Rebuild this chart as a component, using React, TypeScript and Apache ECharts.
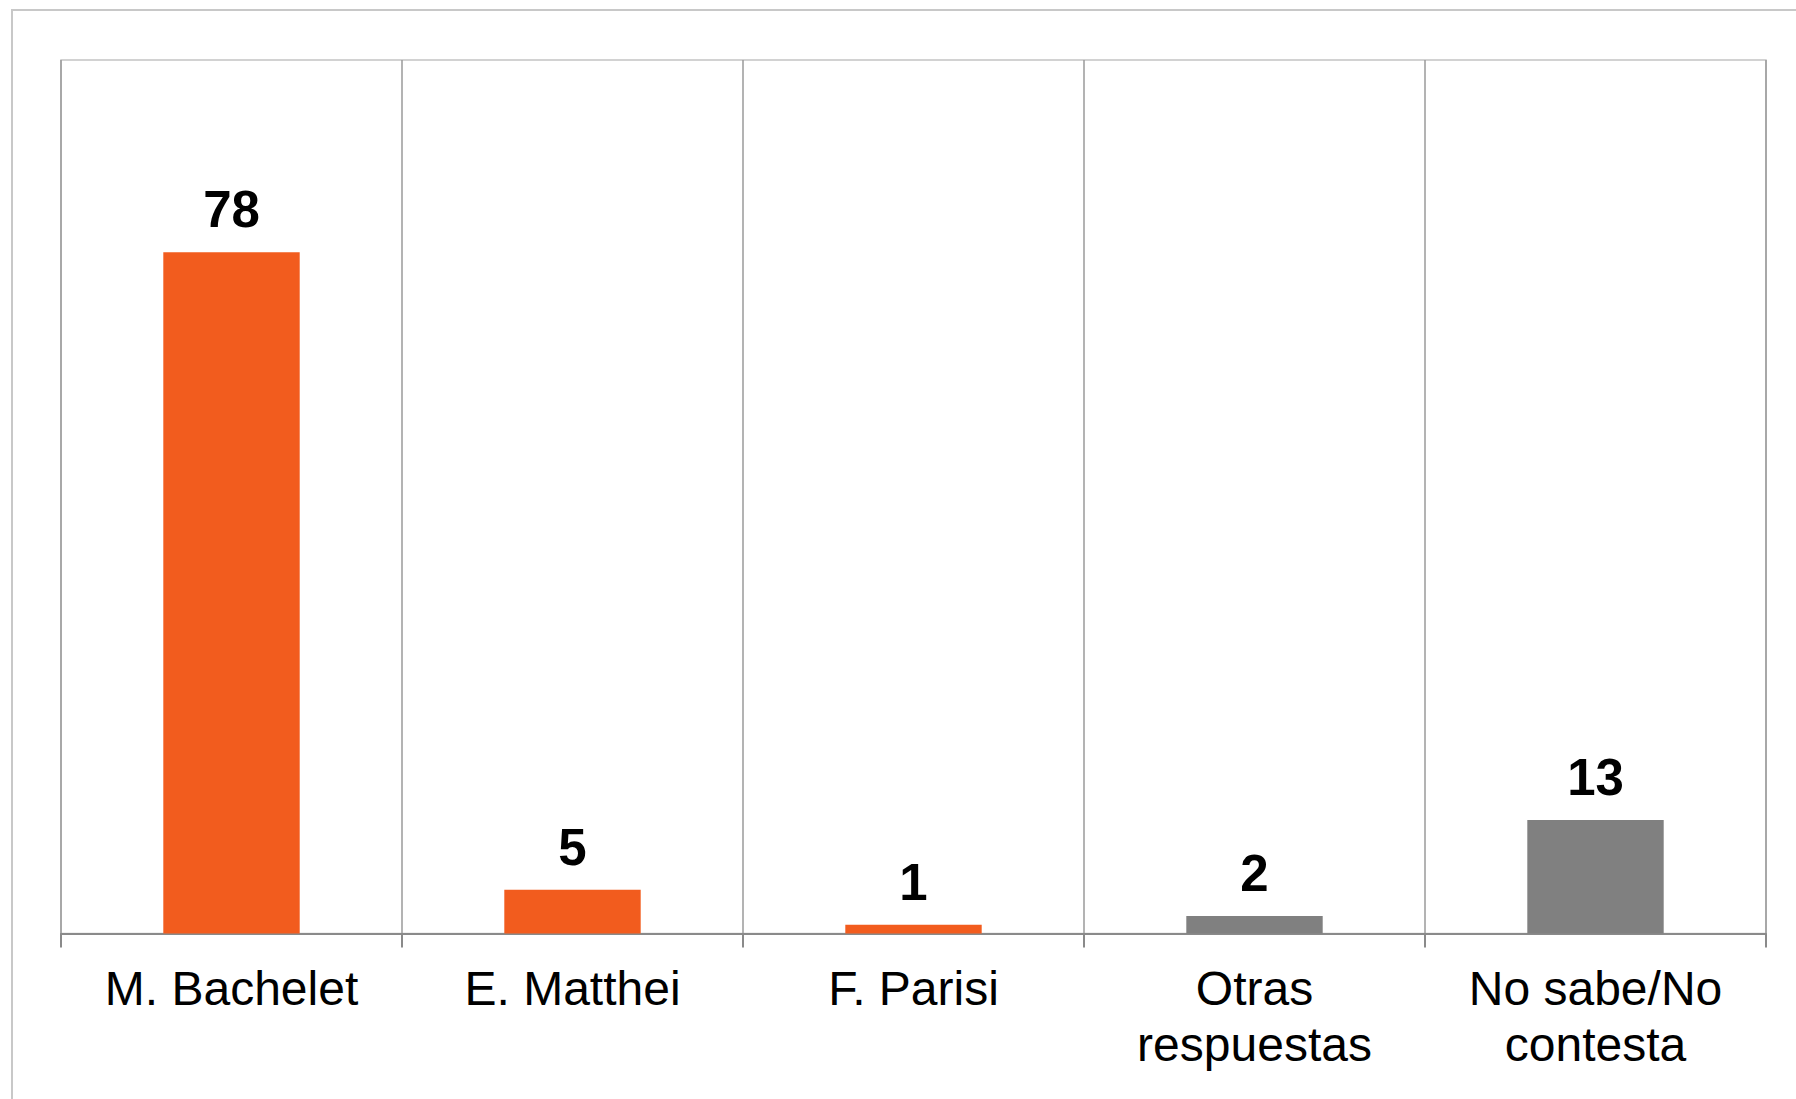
import React, { useEffect, useRef } from "react";
import * as echarts from "echarts";

const categories = ["M. Bachelet", "E. Matthei", "F. Parisi", "Otras\nrespuestas", "No sabe/No\ncontesta"];
const values = [78, 5, 1, 2, 13];
const barColors = ["#F25C1E", "#F25C1E", "#F25C1E", "#808080", "#808080"];

export default function App() {
  const ref = useRef<HTMLDivElement>(null);
  useEffect(() => {
    document.body.style.margin = "0";
    const chart = echarts.init(ref.current!, null, { renderer: "svg" });
    chart.setOption({
      animation: false,
      backgroundColor: "#ffffff",
      grid: {
        left: 61,
        right: 30,
        top: 60,
        bottom: 165.5,
        show: true,
        borderColor: "#c4c4c4",
        borderWidth: 1.5,
      },
      graphic: [
        {
          type: "rect",
          shape: { x: 12, y: 10, width: 1820, height: 1200 },
          style: { fill: "none", stroke: "#c8c8c8", lineWidth: 2 },
          silent: true,
        },
      ],
      xAxis: {
        type: "category",
        data: categories,
        boundaryGap: true,
        axisLine: { show: true, lineStyle: { color: "#8a8a8a", width: 2 } },
        axisTick: { show: true, length: 14, lineStyle: { color: "#8a8a8a", width: 2 } },
        splitLine: { show: true, lineStyle: { color: "#9a9a9a", width: 1.5 } },
        axisLabel: {
          color: "#000",
          fontFamily: "Liberation Sans, Arial, sans-serif",
          fontSize: 48,
          lineHeight: 56,
          margin: 27,
          interval: 0,
        },
      },
      yAxis: {
        type: "value",
        min: 0,
        max: 100,
        show: false,
        splitLine: { show: false },
      },
      series: [
        {
          type: "bar",
          barWidth: "40%",
          data: values.map((v, i) => ({ value: v, itemStyle: { color: barColors[i] } })),
          label: {
            show: true,
            position: "top",
            distance: 17,
            color: "#000",
            fontFamily: "Liberation Sans, Arial, sans-serif",
            fontWeight: "bold",
            fontSize: 51,
          },
        },
      ],
    });
    return () => chart.dispose();
  }, []);
  return <div ref={ref} style={{ position: "absolute", left: 0, top: 0, width: 1796, height: 1099 }} />;
}
